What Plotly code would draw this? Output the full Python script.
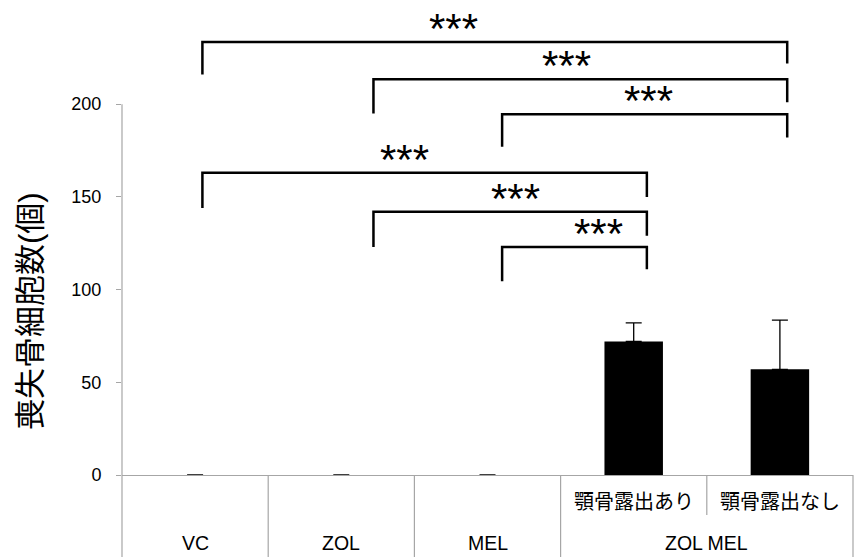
import plotly.graph_objects as go

# Groups and measured osteocyte-loss counts
groups = ["VC", "ZOL", "MEL", "ZOL MEL あり", "ZOL MEL なし"]
sub_labels = ["", "", "", "顎骨露出あり", "顎骨露出なし"]
main_labels = ["VC", "ZOL", "MEL", "ZOL MEL"]
counts = [0, 0, 0, 72, 57]
errors_up = [0, 0, 0, 10, 26.5]

y_ticks = [0, 50, 100, 150, 200]
y_title = "喪失骨細胞数(個)"

# Significance brackets: (left x, right x, top y, left leg end, right leg end, star x, label)
brackets = [
    (0.05, 4.05, 233.5, 216, 222, 1.77, "***"),
    (1.22, 4.05, 213.5, 195, 201, 2.54, "***"),
    (2.10, 4.05, 194.5, 177, 182, 3.10, "***"),
    (0.05, 3.09, 163, 144, 150, 1.43, "***"),
    (1.22, 3.09, 142, 123, 129, 2.19, "***"),
    (2.10, 3.09, 123, 104.5, 111, 2.76, "***"),
]

FONT = "Liberation Sans, Arial, Noto Sans CJK JP"
GRID = "#a6a6a6"

xs = list(range(len(groups)))

fig = go.Figure()
fig.add_trace(go.Bar(
    x=xs, y=counts, width=0.4,
    marker=dict(color="black", line=dict(width=0)),
    error_y=dict(type="data", symmetric=False, array=errors_up,
                 arrayminus=[0] * len(groups), color="black",
                 thickness=1.3, width=8),
    showlegend=False,
))

shapes = []
annotations = []

# y axis line limited to 0..200
shapes.append(dict(type="line", xref="paper", yref="y", x0=0, x1=0,
                   y0=0, y1=200, line=dict(color=GRID, width=1.2)))

# category dividers below the axis
n = len(groups)
bottom = -82 / 445
for i in range(n + 1):
    if i == 4:
        y_end = -40 / 445
    else:
        y_end = bottom
    shapes.append(dict(type="line", xref="paper", yref="paper",
                       x0=i / n, x1=i / n, y0=0, y1=y_end,
                       line=dict(color=GRID, width=1.2)))

# category labels
for i, lab in enumerate(main_labels[:3]):
    annotations.append(dict(x=i, y=-68 / 445, xref="x", yref="paper",
                            text=lab, showarrow=False, yanchor="middle",
                            font=dict(size=19.5, color="black", family=FONT)))
annotations.append(dict(x=3.5, y=-68 / 445, xref="x", yref="paper",
                        text=main_labels[3], showarrow=False, yanchor="middle",
                        font=dict(size=19.5, color="black", family=FONT)))
for i, lab in enumerate(sub_labels):
    if lab:
        annotations.append(dict(x=i, y=-27 / 445, xref="x", yref="paper",
                                text=lab, showarrow=False, yanchor="middle",
                                font=dict(size=20, color="black", family=FONT)))

# brackets and stars
for x0, x1, top, l_end, r_end, sx, lab in brackets:
    shapes.append(dict(type="path", xref="x", yref="y",
                       path=f"M {x0},{l_end} L {x0},{top} L {x1},{top} L {x1},{r_end}",
                       line=dict(color="black", width=2.5)))
    annotations.append(dict(x=sx, y=top, xref="x", yref="y", text=lab,
                            showarrow=False, yanchor="bottom", yshift=-12,
                            font=dict(size=42, color="black", family=FONT)))

# y axis title
annotations.append(dict(x=-92 / 731, y=(475 - 311) / 445, xref="paper", yref="paper",
                        text=y_title, textangle=-90, showarrow=False,
                        xanchor="center", yanchor="middle",
                        font=dict(size=31, color="black", family=FONT)))

fig.update_layout(
    width=865, height=557,
    margin=dict(l=122, r=12, t=30, b=82),
    paper_bgcolor="white", plot_bgcolor="white",
    shapes=shapes, annotations=annotations,
    xaxis=dict(range=[-0.5, 4.5], showticklabels=False, showgrid=False,
               zeroline=False, showline=True, linecolor=GRID, linewidth=1.2,
               ticks="", fixedrange=True),
    yaxis=dict(range=[0, 240], tickvals=y_ticks, ticktext=[str(v) for v in y_ticks],
               showgrid=False, zeroline=False, showline=False,
               ticks="outside", ticklen=5, tickcolor=GRID, tickwidth=1.2,
               ticklabelstandoff=11,
               tickfont=dict(size=18, color="black", family=FONT)),
)

fig.write_html("out.html")
